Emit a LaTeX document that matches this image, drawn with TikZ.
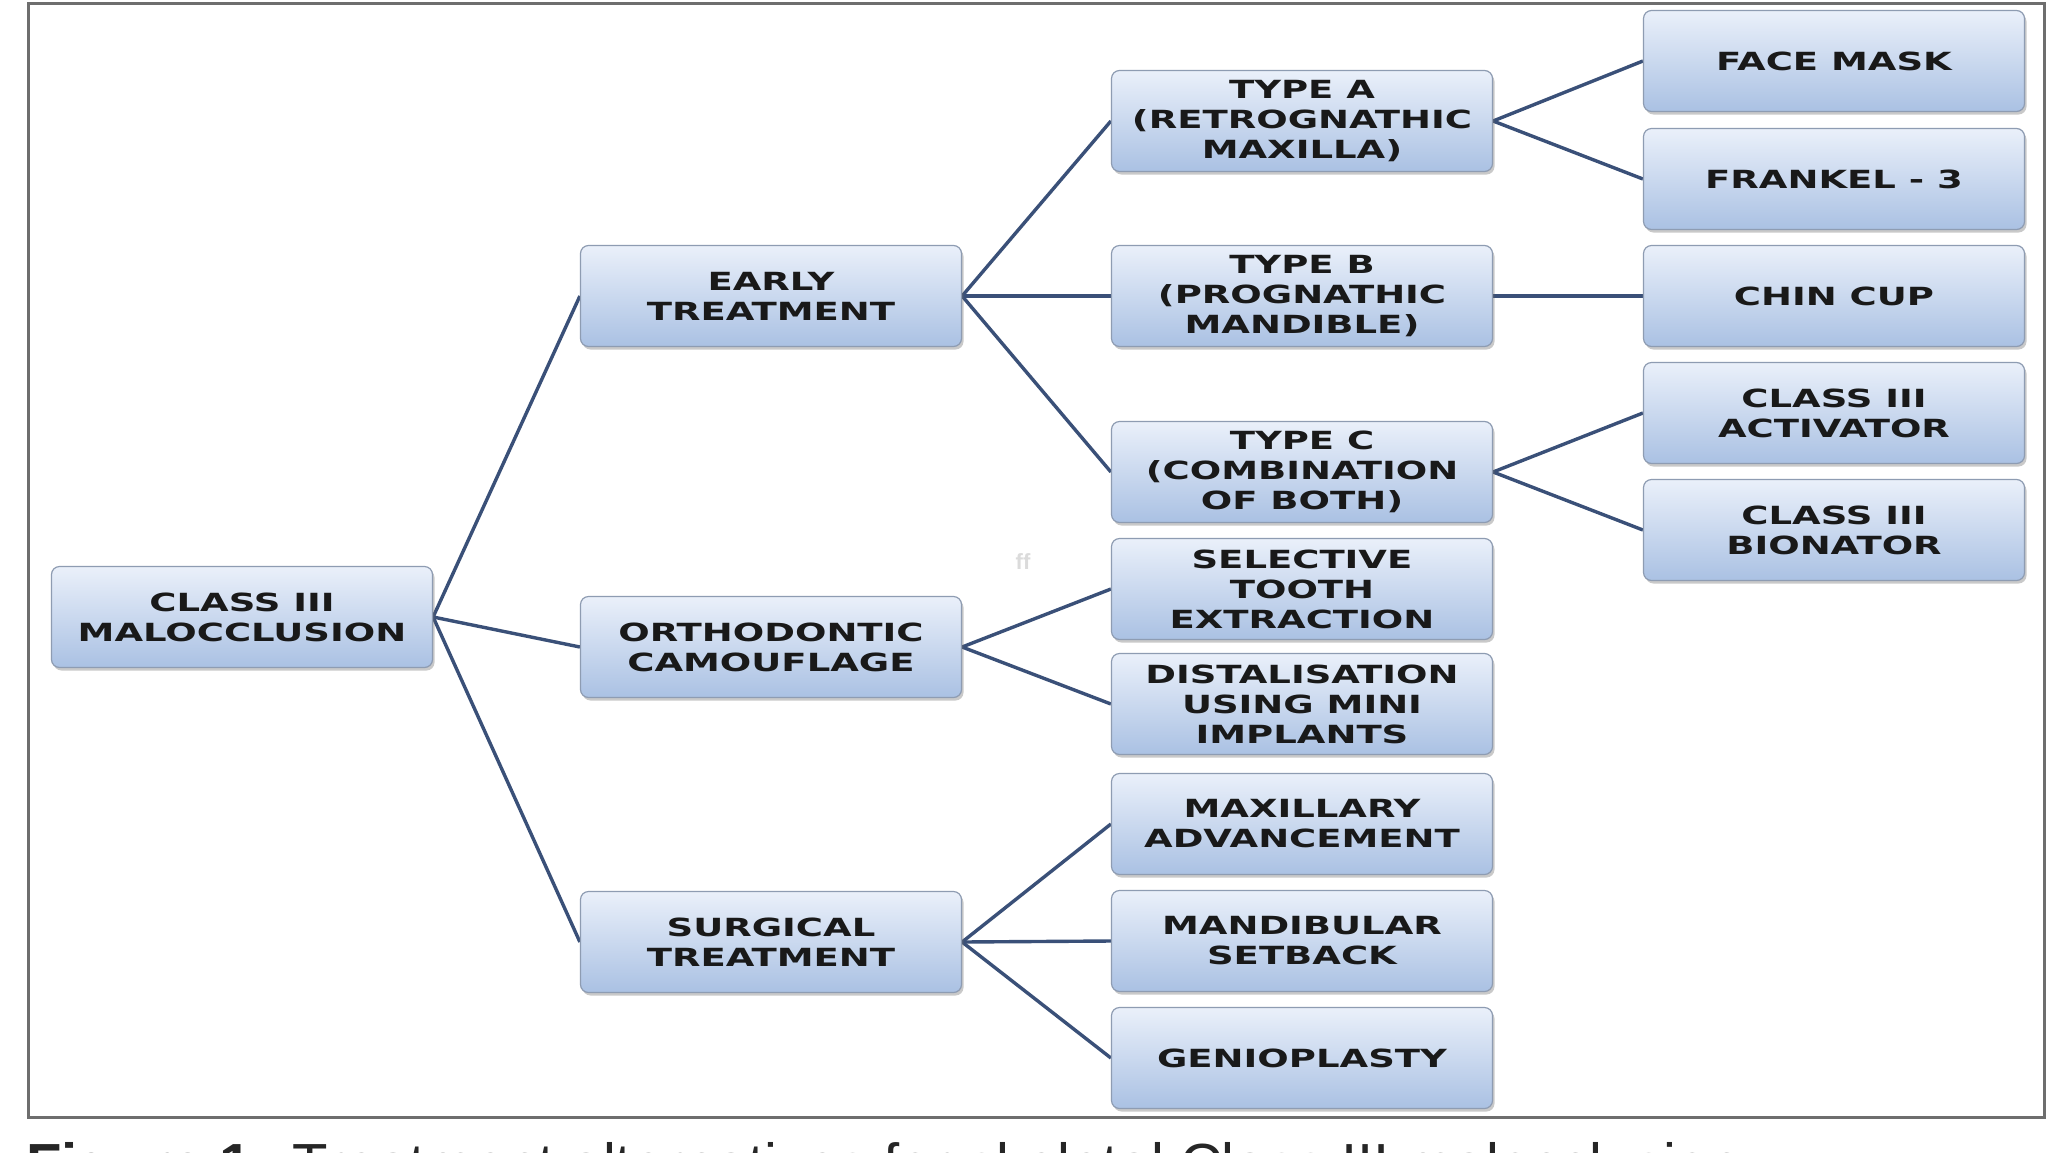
\documentclass[tikz,border=0pt]{standalone}
\usepackage{fontspec}
\setmainfont{Liberation Sans}
\newfontfamily\boxfont[FakeStretch=1.48]{DejaVu Sans Bold}
\usetikzlibrary{shadows,backgrounds}
\definecolor{boxtop}{HTML}{EAF0FA}
\definecolor{boxbot}{HTML}{AAC1E3}
\definecolor{boxline}{HTML}{8E9CB2}
\definecolor{conn}{HTML}{3A5078}
\definecolor{framec}{HTML}{6E6E6E}
\begin{document}
\begin{tikzpicture}[x=1pt,y=-1pt,
  tbox/.style={draw=boxline, line width=1.2pt, rounded corners=8pt,
    top color=boxtop, bottom color=boxbot,
    minimum width=381pt, minimum height=101pt, inner sep=0pt,
    align=center, font=\boxfont\fontsize{25}{30}\selectfont, text=black!90,
    drop shadow={shadow xshift=2pt, shadow yshift=-3pt, opacity=0.35, fill=black!60}},
  link/.style={draw=conn, line width=3.4pt}]
\useasboundingbox (0,0) rectangle (2048,1152);
\draw[draw=framec, line width=3pt] (28,3) rectangle (2044,1117);
% level 1
\node[tbox] (root) at (242,617) {CLASS III\\MALOCCLUSION};
% level 2
\node[tbox] (early) at (771,296) {EARLY\\TREATMENT};
\node[tbox] (ortho) at (771,647) {ORTHODONTIC\\CAMOUFLAGE};
\node[tbox] (surg) at (771,942) {SURGICAL\\TREATMENT};
% level 3
\node[tbox] (typea) at (1302,121) {TYPE A\\(RETROGNATHIC\\MAXILLA)};
\node[tbox] (typeb) at (1302,296) {TYPE B\\(PROGNATHIC\\MANDIBLE)};
\node[tbox] (typec) at (1302,472) {TYPE C\\(COMBINATION\\OF BOTH)};
\node[tbox] (sel) at (1302,589) {SELECTIVE\\TOOTH\\EXTRACTION};
\node[tbox] (dist) at (1302,704) {DISTALISATION\\USING MINI\\IMPLANTS};
\node[tbox] (maxa) at (1302,824) {MAXILLARY\\ADVANCEMENT};
\node[tbox] (mand) at (1302,941) {MANDIBULAR\\SETBACK};
\node[tbox] (genio) at (1302,1058) {GENIOPLASTY};
% level 4
\node[tbox] (face) at (1834,61) {FACE MASK};
\node[tbox] (frank) at (1834,179) {FRANKEL - 3};
\node[tbox] (chin) at (1834,296) {CHIN CUP};
\node[tbox] (act) at (1834,413) {CLASS III\\ACTIVATOR};
\node[tbox] (bion) at (1834,530) {CLASS III\\BIONATOR};
% faint artifact
\node[text=black!14, font=\fontsize{22}{22}\selectfont\bfseries] (art) at (1023,562) {ff};
% caption (cut off at the bottom edge, as in the source)
\node[anchor=base west, inner sep=0pt, font=\fontsize{58}{62}\selectfont, text=black!85] (cap) at (26,1184) {\textbf{Figure 1:} Treatment alternatives for skeletal Class III malocclusion};
\begin{scope}[on background layer]
\fill[white] (0,0) rectangle (2048,1152);
\draw[link] (root.east) -- (early.west);
\draw[link] (root.east) -- (ortho.west);
\draw[link] (root.east) -- (surg.west);
\draw[link] (early.east) -- (typea.west);
\draw[link] (early.east) -- (typeb.west);
\draw[link] (early.east) -- (typec.west);
\draw[link] (ortho.east) -- (sel.west);
\draw[link] (ortho.east) -- (dist.west);
\draw[link] (surg.east) -- (maxa.west);
\draw[link] (surg.east) -- (mand.west);
\draw[link] (surg.east) -- (genio.west);
\draw[link] (typea.east) -- (face.west);
\draw[link] (typea.east) -- (frank.west);
\draw[link] (typeb.east) -- (chin.west);
\draw[link] (typec.east) -- (act.west);
\draw[link] (typec.east) -- (bion.west);
\end{scope}
\end{tikzpicture}
\end{document}
